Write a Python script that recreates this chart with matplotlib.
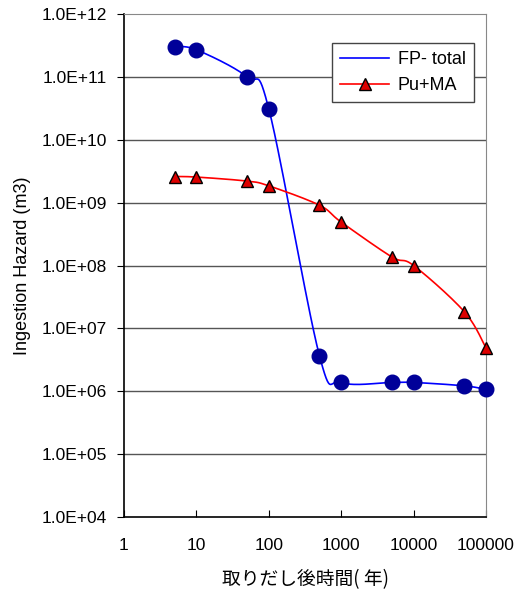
import numpy as np
import matplotlib.pyplot as plt
from matplotlib.lines import Line2D

plt.rcParams['font.family'] = ['Liberation Sans', 'DejaVu Sans']

years = [5, 10, 50, 100, 500, 1000, 5000, 10000, 50000, 100000]
fp_total = [3.0e11, 2.7e11, 1.0e11, 3.1e10, 3.7e6, 1.38e6, 1.38e6, 1.38e6, 1.22e6, 1.07e6]
pu_ma = [2.6e9, 2.55e9, 2.2e9, 1.85e9, 9.1e8, 4.9e8, 1.37e8, 1.0e8, 1.85e7, 4.9e6]
yticks = [1e4, 1e5, 1e6, 1e7, 1e8, 1e9, 1e10, 1e11, 1e12]
xticks = [1, 10, 100, 1000, 10000, 100000]


def smooth(xs, ys, n=30):
    # excel-like bezier smoothing in log-log space
    lx = np.log10(xs)
    ly = np.log10(ys)
    px = []
    py = []
    m = len(lx)
    for i in range(m - 1):
        x0, y0 = (lx[i - 1], ly[i - 1]) if i > 0 else (lx[i], ly[i])
        x1, y1 = lx[i], ly[i]
        x2, y2 = lx[i + 1], ly[i + 1]
        x3, y3 = (lx[i + 2], ly[i + 2]) if i + 2 < m else (x2, y2)
        c1x, c1y = x1 + (x2 - x0) / 6, y1 + (y2 - y0) / 6
        c2x, c2y = x2 - (x3 - x1) / 6, y2 - (y3 - y1) / 6
        t = np.linspace(0, 1, n)
        bx = (1-t)**3*x1 + 3*(1-t)**2*t*c1x + 3*(1-t)*t**2*c2x + t**3*x2
        by = (1-t)**3*y1 + 3*(1-t)**2*t*c1y + 3*(1-t)*t**2*c2y + t**3*y2
        px.extend(bx)
        py.extend(by)
    return 10**np.array(px), 10**np.array(py)


fig = plt.figure(figsize=(5.24, 5.92), dpi=100)
ax = fig.add_axes([124/524, 1 - 517/592, 362/524, 503/592])

sx, sy = smooth(years, fp_total)
ax.plot(sx, sy, color='#0000ff', lw=1.2, zorder=3)
ax.plot(years, fp_total, 'o', color='#000099', ms=10.5, mec='#000099', zorder=4, clip_on=False)

sx, sy = smooth(years, pu_ma)
ax.plot(sx, sy, color='#ff0000', lw=1.2, zorder=3)
ax.plot(years, pu_ma, '^', color='#dd0000', mec='black', mew=1.0, ms=8.5, zorder=5, clip_on=False)

ax.set_xscale('log')
ax.set_yscale('log')
ax.set_xlim(1, 100000)
ax.set_ylim(1e4, 1e12)
ax.set_xticks(xticks)
ax.set_xticklabels([str(v) for v in xticks])
ax.set_yticks(yticks)
ax.set_yticklabels(['1.0E+%02d' % int(np.log10(v)) for v in yticks])
ax.minorticks_off()
ax.tick_params(axis='x', direction='in', length=5, labelsize=12.5, pad=15)
ax.tick_params(axis='y', direction='out', length=5, labelsize=12.5, pad=7)
for v in yticks[1:-1]:
    ax.axhline(v, color='#555555', lw=1.0, zorder=1)
ax.spines['top'].set_color('#888888')
ax.spines['right'].set_color('#888888')
ax.spines['left'].set_linewidth(1.2)
ax.spines['bottom'].set_linewidth(1.2)

ax.set_ylabel('Ingestion Hazard (m3)', fontsize=13, labelpad=8)
ax.set_xlabel('取りだし後時間( 年)', fontsize=13.5, labelpad=12,
              family=['Noto Sans CJK JP', 'DejaVu Sans'])

handles = [Line2D([], [], color='#0000ff', lw=1.2),
           Line2D([], [], color='#ff0000', lw=1.2, marker='^', mfc='#dd0000', mec='black', ms=8.5)]
leg = ax.legend(handles, ['FP- total', 'Pu+MA'], loc='upper right', bbox_to_anchor=(0.967, 0.942),
                borderaxespad=0, fontsize=13, fancybox=False, edgecolor='#444444', framealpha=1,
                handlelength=2.7, handletextpad=0.5, borderpad=0.45, labelspacing=0.5)
leg.get_frame().set_linewidth(1.0)

plt.savefig('out.png', dpi=100)
